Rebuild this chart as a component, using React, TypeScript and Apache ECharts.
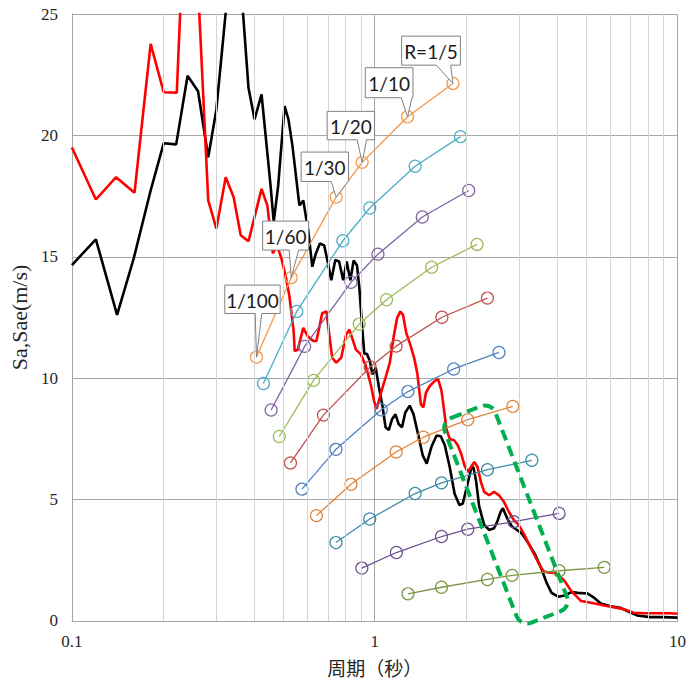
import React, { useEffect, useRef } from "react";
import * as echarts from "echarts";

// Observed spectrum (black) : period [s] / Sa [m/s]
const blackPeriod = [
  0.1, 0.12, 0.141, 0.16, 0.182, 0.201, 0.221, 0.241, 0.261, 0.282,
  0.3, 0.347, 0.383, 0.401, 0.423, 0.453, 0.464, 0.48, 0.504, 0.519,
  0.535, 0.564, 0.581, 0.604, 0.622, 0.638, 0.659, 0.681, 0.698, 0.719,
  0.741, 0.763, 0.787, 0.808, 0.831, 0.852, 0.874, 0.89, 0.911, 0.924,
  0.942, 0.963, 0.983, 1.008, 1.033, 1.059, 1.086, 1.113, 1.142, 1.171,
  1.2, 1.231, 1.262, 1.305, 1.343, 1.394, 1.441, 1.485, 1.542, 1.601,
  1.653, 1.704, 1.769, 1.836, 1.906, 1.954, 2.028, 2.081, 2.117, 2.16,
  2.214, 2.299, 2.387, 2.478, 2.54, 2.606, 2.651, 2.738, 2.842, 2.951,
  3.064, 3.222, 3.389, 3.561, 3.697, 3.838, 4.036, 4.244, 4.459, 4.689,
  5.053, 5.314, 5.583, 6.018, 6.487, 6.821, 7.354, 8.124, 8.983, 10,
];
const blackSa = [
  14.66, 15.72, 12.61, 14.93, 17.73, 19.68, 19.63, 22.46, 21.82, 19.1,
  21.07, 29.26, 21.96, 20.66, 21.69, 17.93, 16.44, 17.93, 21.21, 20.66,
  19.57, 17.12, 17.32, 16.03, 14.59, 15.1, 15.55, 15.47, 14.85, 14.03,
  14.87, 14.81, 14.03, 14.81, 14.03, 14.85, 14.65, 13.71, 11.95, 11.01,
  11.01, 10.72, 10.16, 10.43, 9.62, 8.92, 7.98, 7.86, 8.32, 8.51,
  8.11, 7.98, 8.59, 8.87, 8.52, 7.64, 6.82, 6.48, 7.2, 7.64,
  7.61, 7.24, 6.34, 5.24, 4.77, 4.84, 5.66, 6.27, 6.34, 5.8,
  4.71, 3.96, 3.75, 3.82, 4.09, 4.5, 4.64, 4.23, 3.89, 3.75,
  3.6, 3.19, 2.73, 2.12, 1.57, 1.16, 1.0, 1.05, 1.19, 1.16,
  1.13, 0.95, 0.72, 0.61, 0.54, 0.41, 0.23, 0.16, 0.16, 0.14,
];

// Observed spectrum (red)
const redPeriod = [
  0.1, 0.12, 0.14, 0.161, 0.182, 0.201, 0.222, 0.244, 0.282, 0.3,
  0.322, 0.342, 0.361, 0.383, 0.423, 0.442, 0.461, 0.476, 0.492, 0.507,
  0.522, 0.54, 0.544, 0.557, 0.581, 0.6, 0.627, 0.642, 0.671, 0.693,
  0.71, 0.724, 0.746, 0.775, 0.805, 0.825, 0.846, 0.867, 0.9, 0.935,
  0.97, 0.995, 1.015, 1.046, 1.086, 1.122, 1.156, 1.186, 1.215, 1.24,
  1.271, 1.31, 1.35, 1.384, 1.42, 1.448, 1.477, 1.522, 1.58, 1.62,
  1.662, 1.69, 1.725, 1.769, 1.836, 1.882, 1.93, 1.979, 2.028, 2.081,
  2.133, 2.186, 2.242, 2.299, 2.387, 2.478, 2.573, 2.671, 2.773, 2.879,
  2.989, 3.104, 3.222, 3.346, 3.474, 3.606, 3.744, 3.937, 4.087, 4.244,
  4.459, 4.806, 5.18, 5.728, 6.328, 6.655, 7.174, 7.732, 8.544, 9.439,
  10,
];
const redSa = [
  19.5, 17.36, 18.28, 17.64, 23.77, 21.78, 21.76, 33.76, 17.32, 16.16,
  18.28, 17.46, 15.89, 15.64, 17.8, 17.12, 15.14, 15.48, 14.93, 14.25,
  13.43, 11.94, 11.12, 11.17, 12.07, 11.74, 11.53, 11.53, 12.68, 12.75,
  11.66, 10.84, 10.64, 10.84, 11.8, 12.0, 11.59, 11.18, 10.98, 10.5,
  9.75, 9.07, 8.73, 9.34, 10.02, 10.64, 11.73, 12.48, 12.75, 12.61,
  11.87, 11.39, 10.84, 10.16, 8.93, 8.8, 9.41, 9.69, 9.89, 9.96,
  9.48, 8.8, 7.91, 7.5, 7.43, 7.23, 6.89, 6.41, 6.14, 6.34,
  6.55, 6.34, 5.73, 5.32, 5.18, 5.32, 5.18, 4.91, 4.5, 4.16,
  3.96, 3.61, 3.2, 2.79, 2.39, 2.05, 2.0, 1.98, 1.84, 1.64,
  1.23, 0.82, 0.75, 0.64, 0.54, 0.48, 0.34, 0.32, 0.32, 0.32,
  0.3,
];

// Capacity curves (one per structure), points at R = 1/100 ... 1/5
const ratioLabels = ["1/100", "1/60", "1/30", "1/20", "1/10", "R=1/5"];
const stepPeriods = [
  [0.407, 0.53, 0.746, 0.909, 1.284, 1.813],
  [0.429, 0.553, 0.785, 0.963, 1.36, 1.92],
  [0.455, 0.587, 0.835, 1.025, 1.436, 2.044],
  [0.484, 0.628, 0.889, 1.094, 1.542, 2.177],
  [0.527, 0.677, 0.966, 1.177, 1.667, 2.357],
  [0.575, 0.745, 1.051, 1.288, 1.823, 2.573],
  [0.642, 0.835, 1.177, 1.447, 2.029, 2.858],
  [0.745, 0.963, 1.36, 1.662, 2.357, 3.304],
  [0.907, 1.179, 1.662, 2.029, 2.879, 4.065],
  [1.288, 1.662, 2.357, 2.843, 4.065, 5.728],
];
const stepSa = [
  [10.87, 14.14, 17.46, 18.89, 20.77, 22.14],
  [9.78, 12.75, 15.66, 17.01, 18.73, 19.95],
  [8.69, 11.31, 13.95, 15.11, 16.64, 17.73],
  [7.6, 9.91, 12.23, 13.23, 14.57, 15.51],
  [6.51, 8.48, 10.46, 11.32, 12.51, 13.3],
  [5.43, 7.07, 8.7, 9.45, 10.38, 11.06],
  [4.34, 5.63, 6.96, 7.57, 8.29, 8.84],
  [3.23, 4.2, 5.25, 5.69, 6.23, 6.62],
  [2.18, 2.82, 3.48, 3.78, 4.09, 4.43],
  [1.12, 1.39, 1.71, 1.88, 2.07, 2.21],
];
const stepColors = [
  "#F79646", "#4BACC6", "#8064A2", "#9BBB59", "#C0504D",
  "#4F81BD", "#E0823A", "#3A8DA8", "#6A5390", "#7A9642",
];
const minorTicks = [0.2, 0.3, 0.4, 0.5, 0.6, 0.7, 0.8, 0.9, 2, 3, 4, 5, 6, 7, 8, 9];

// callout layout relative to the pointed marker: [left, top, width, height, wedgeStart, wedgeEnd]
const calloutLayout = [
  [-31.7, -72, 55.4, 28.4, -1.3, 5.3],
  [-28.6, -56.6, 46, 29, -2, 7.4],
  [-35, -45, 47.3, 29.4, -5, 11.7],
  [-35, -51, 47.4, 28.4, -5, 4.4],
  [-42.3, -49, 47.7, 30, -6.3, 4.4],
  [-51.3, -47.3, 58.7, 29, -16.6, -2.3],
];

const SERIF = "'Liberation Serif', 'Times New Roman', serif";
const zip = (a: number[], b: number[]) => a.map((v, i) => [v, b[i]]);

export default function App() {
  const ref = useRef<HTMLDivElement>(null);
  useEffect(() => {
    const chart = echarts.init(ref.current!, null, { renderer: "svg" });
    const series: any[] = [
      {
        type: "line",
        name: "minor",
        data: [],
        z: 1,
        silent: true,
        markLine: {
          silent: true,
          symbol: ["none", "none"],
          label: { show: false },
          lineStyle: { color: "#d4d4d4", type: "solid", width: 1 },
          data: minorTicks.map((v) => ({ xAxis: v })),
        },
      },
      {
        type: "line",
        name: "black",
        data: zip(blackPeriod, blackSa),
        symbol: "none",
        lineStyle: { color: "#000000", width: 2.6 },
        z: 3,
      },
      {
        type: "line",
        name: "red",
        data: zip(redPeriod, redSa),
        symbol: "none",
        lineStyle: { color: "#FF0000", width: 2.6 },
        z: 3,
      },
    ];
    const firstStep = series.length;
    stepPeriods.forEach((p, i) => {
      series.push({
        type: "line",
        name: "s" + (i + 1),
        data: zip(p, stepSa[i]),
        symbol: "circle",
        symbolSize: 12,
        lineStyle: { color: stepColors[i], width: 1.3 },
        itemStyle: { color: "rgba(0,0,0,0)", borderColor: stepColors[i], borderWidth: 1.2 },
        z: 4,
      });
    });

    chart.setOption({
      animation: false,
      grid: { left: 67, right: 8, top: 14, bottom: 57 },
      xAxis: {
        type: "log",
        logBase: 10,
        min: 0.1,
        max: 10,
        axisLine: { show: true, lineStyle: { color: "#a6a6a6", width: 1 } },
        axisTick: { show: false },
        axisLabel: { fontFamily: SERIF, fontSize: 17, color: "#262626", margin: 12 },
        splitLine: { show: true, lineStyle: { color: "#a6a6a6", width: 1 } },
        name: "周期（秒）",
        nameLocation: "middle",
        nameGap: 37,
        nameTextStyle: { fontFamily: "'Noto Sans CJK JP', sans-serif", fontSize: 19, color: "#262626" },
      },
      yAxis: {
        type: "value",
        min: 0,
        max: 25,
        interval: 5,
        axisLine: { show: true, lineStyle: { color: "#a6a6a6", width: 1 } },
        axisTick: { show: false },
        axisLabel: { fontFamily: SERIF, fontSize: 17, color: "#262626", margin: 14 },
        splitLine: { show: true, lineStyle: { color: "#a6a6a6", width: 1 } },
        name: "Sa,Sae(m/s)",
        nameLocation: "middle",
        nameRotate: 90,
        nameGap: 35,
        nameTextStyle: { fontFamily: SERIF, fontSize: 22, color: "#262626" },
      },
      series,
    });

    const graphics: any[] = [];
    ratioLabels.forEach((txt, i) => {
      const p = chart.convertToPixel({ seriesIndex: firstStep }, [stepPeriods[0][i], stepSa[0][i]]) as number[];
      const [dl, dt, w, h, b1, b2] = calloutLayout[i];
      const l = p[0] + dl;
      const t = p[1] + dt;
      const r = l + w;
      const b = t + h;
      graphics.push({
        type: "polygon",
        z: 100,
        shape: {
          points: [
            [l, t], [r, t], [r, b], [p[0] + b2, b], [p[0], p[1]], [p[0] + b1, b], [l, b],
          ],
        },
        style: { fill: "#ffffff", stroke: "#808080", lineWidth: 1 },
      });
      graphics.push({
        type: "text",
        z: 101,
        x: l + w / 2,
        y: t + h / 2 + 1,
        style: {
          text: txt,
          fontFamily: "Lato",
          fontSize: 19,
          fill: "#1a1a1a",
          align: "center",
          verticalAlign: "middle",
          textAlign: "center",
          textVerticalAlign: "middle",
        },
      });
    });
    graphics.push({
      type: "rect",
      z: 100,
      x: 506,
      y: 514.5,
      rotation: 0.37,
      shape: { x: -27, y: -110, width: 54, height: 220, r: 11 },
      style: { fill: "none", stroke: "#00B050", lineWidth: 4, lineDash: [11, 6] },
    });
    chart.setOption({ graphic: graphics });

    return () => chart.dispose();
  }, []);
  return (
    <div
      ref={ref}
      style={{ position: "absolute", left: 0, top: 0, width: 689, height: 682 }}
    />
  );
}
